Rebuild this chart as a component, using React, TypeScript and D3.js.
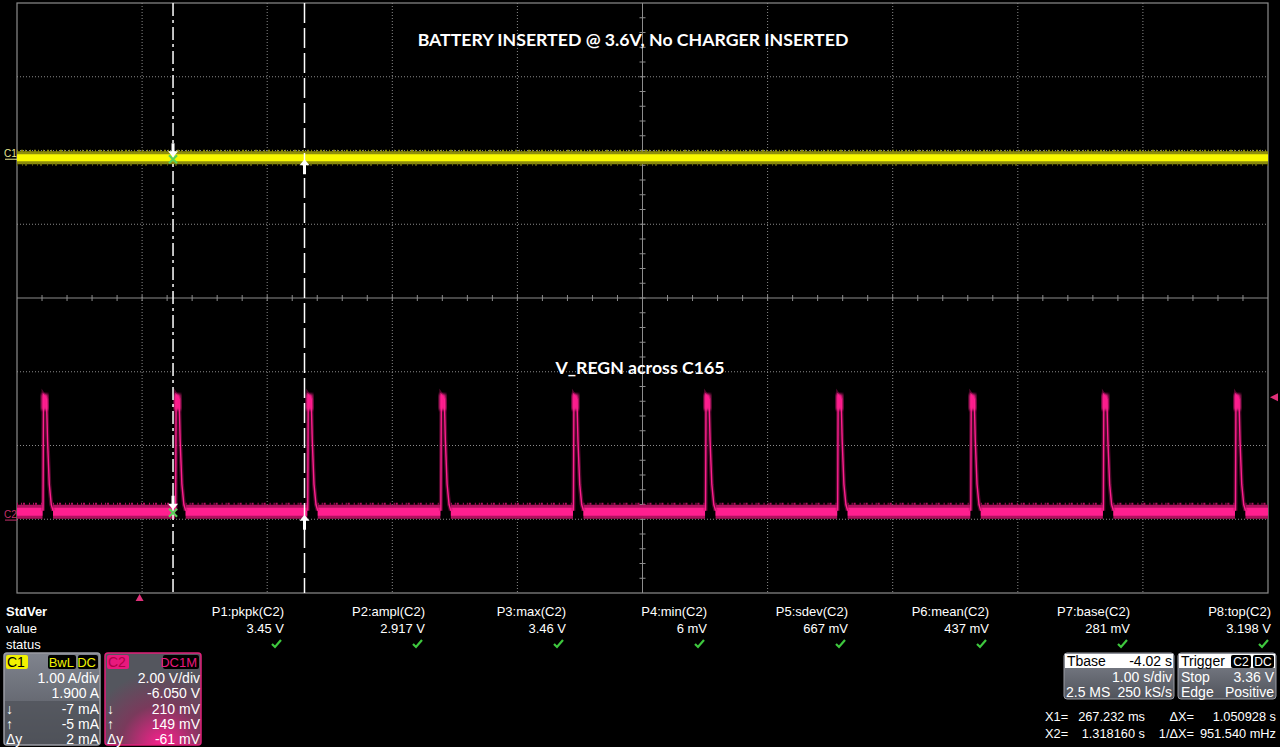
import React, { useEffect, useRef } from 'react';
import * as d3 from 'd3';

// time base: 1 s/div, delay -4.02 s
const timeDomain = [-0.98, 9.02];
// C2 (V_REGN) 2 V/div, offset -6.050 V ; C1 1 A/div, offset 1.900 A
const c2Domain = [-1.95, 14.05];
const c1Domain = [-5.9, 2.1];

// pulse start times (s)
const pulseTimes = [-0.772, 0.288, 1.344, 2.408, 3.468, 4.524, 5.58, 6.644, 7.704, 8.76];
// pulse shape: offset from start (s) and level (V)
const pulseOffsets = [0, 0.004, 0.028, 0.036, 0.05, 0.066, 0.08];
const pulseVolts = [0.281, 3.42, 3.3, 2.2, 1.0, 0.45, 0.281];
const c2Base = 0.281;
const c1Level = -0.005;
const triggerLevel = 3.36;
const cursorX1 = 0.267232;
const cursorX2 = 1.31816;

const title = 'BATTERY INSERTED @ 3.6V, No CHARGER INSERTED';
const c2Label = 'V_REGN across C165';

const measLabels = ['P1:pkpk(C2)', 'P2:ampl(C2)', 'P3:max(C2)', 'P4:min(C2)', 'P5:sdev(C2)', 'P6:mean(C2)', 'P7:base(C2)', 'P8:top(C2)'];
const measValues = ['3.45 V', '2.917 V', '3.46 V', '6 mV', '667 mV', '437 mV', '281 mV', '3.198 V'];

const c1Rows = [['', '1.00 A/div'], ['', '1.900 A'], ['↓', '-7 mA'], ['↑', '-5 mA'], ['Δy', '2 mA']];
const c2Rows = [['', '2.00 V/div'], ['', '-6.050 V'], ['↓', '210 mV'], ['↑', '149 mV'], ['Δy', '-61 mV']];

const cursorRows = [
  ['X1=', '267.232 ms', 'ΔX=', '1.050928 s'],
  ['X2=', '1.318160 s', '1/ΔX=', '951.540 mHz'],
];

const FONT = '"Liberation Sans", Arial, sans-serif';
const PINK = '#ff1f8f';
const PINK_DIM = '#b0125f';
const YELLOW = '#f8f800';
const YELLOW_DIM = '#8c8c0c';

const App = () => {
  const ref = useRef(null);

  useEffect(() => {
    if (!ref.current) return;
    const svg = d3.select(ref.current);
    svg.selectAll('*').remove();

    const x = d3.scaleLinear().domain(timeDomain).range([17, 1268]);
    const y2 = d3.scaleLinear().domain(c2Domain).range([593, 3]);
    const y1 = d3.scaleLinear().domain(c1Domain).range([593, 3]);
    const top = 3, bottom = 593, left = 17, right = 1268;
    const cx = (left + right) / 2, cy = (top + bottom) / 2;

    const defs = svg.append('defs');
    defs.append('filter').attr('id', 'glow').append('feGaussianBlur').attr('stdDeviation', 1.6);
    const g1 = defs.append('linearGradient').attr('id', 'c1grad').attr('x1', 0).attr('y1', 0).attr('x2', 0).attr('y2', 1);
    g1.append('stop').attr('offset', '0%').attr('stop-color', '#80848e');
    g1.append('stop').attr('offset', '100%').attr('stop-color', '#50535b');
    const g2 = defs.append('radialGradient').attr('id', 'c2grad').attr('cx', '60%').attr('cy', '100%').attr('r', '80%');
    g2.append('stop').attr('offset', '0%').attr('stop-color', '#ff1f8f');
    g2.append('stop').attr('offset', '55%').attr('stop-color', '#7a3a5c');
    g2.append('stop').attr('offset', '100%').attr('stop-color', '#54565e');

    // ---- grid
    const grid = svg.append('g');
    d3.range(1, 10).forEach(i => {
      const gx = left + (i * (right - left)) / 10;
      if (i === 5) return;
      grid.append('line').attr('x1', gx).attr('x2', gx).attr('y1', top).attr('y2', bottom)
        .attr('stroke', '#8a8a8a').attr('stroke-width', 1).attr('stroke-dasharray', '1 2');
    });
    d3.range(1, 8).forEach(i => {
      const gy = top + (i * (bottom - top)) / 8;
      if (i === 4) return;
      grid.append('line').attr('x1', left).attr('x2', right).attr('y1', gy).attr('y2', gy)
        .attr('stroke', '#8a8a8a').attr('stroke-width', 1).attr('stroke-dasharray', '1 2');
    });
    grid.append('rect').attr('x', left).attr('y', top).attr('width', right - left).attr('height', bottom - top)
      .attr('fill', 'none').attr('stroke', '#8c8c8c').attr('stroke-width', 1.2);
    grid.append('line').attr('x1', cx).attr('x2', cx).attr('y1', top).attr('y2', bottom).attr('stroke', '#8c8c8c');
    grid.append('line').attr('x1', left).attr('x2', right).attr('y1', cy).attr('y2', cy).attr('stroke', '#8c8c8c');
    d3.range(1, 50).forEach(i => {
      const tx = left + (i * (right - left)) / 50;
      grid.append('line').attr('x1', tx).attr('x2', tx).attr('y1', cy - 3).attr('y2', cy + 3).attr('stroke', '#8c8c8c');
    });
    d3.range(1, 40).forEach(i => {
      const ty = top + (i * (bottom - top)) / 40;
      grid.append('line').attr('x1', cx - 3).attr('x2', cx + 3).attr('y1', ty).attr('y2', ty).attr('stroke', '#8c8c8c');
    });

    // ---- C1 trace (yellow band)
    const c1y = y1(c1Level);
    const c1 = svg.append('g');
    c1.append('rect').attr('x', left).attr('y', c1y - 7).attr('width', right - left).attr('height', 13).attr('fill', YELLOW_DIM);
    c1.append('line').attr('x1', left).attr('x2', right).attr('y1', c1y - 7.5).attr('y2', c1y - 7.5)
      .attr('stroke', YELLOW_DIM).attr('stroke-width', 2).attr('stroke-dasharray', '1 3 2 2 1 4');
    c1.append('line').attr('x1', left).attr('x2', right).attr('y1', c1y + 6.5).attr('y2', c1y + 6.5)
      .attr('stroke', '#5e5e0a').attr('stroke-width', 2).attr('stroke-dasharray', '1 4 1 2 2 5');
    c1.append('rect').attr('x', left).attr('y', c1y - 4).attr('width', right - left).attr('height', 7).attr('fill', YELLOW);

    // ---- C2 trace (pink)
    const c2 = svg.append('g');
    const baseY = y2(c2Base);
    const gaps = pulseTimes.map(t => [t - 0.004, t + pulseOffsets[pulseOffsets.length - 1]]);
    const segs: number[][] = [];
    let start = timeDomain[0];
    gaps.forEach(([a, b]) => { if (a > start) segs.push([start, a]); start = b; });
    if (start < timeDomain[1]) segs.push([start, timeDomain[1]]);
    segs.forEach(([a, b]) => {
      const xa = Math.max(x(a), left), xb = Math.min(x(b), right);
      c2.append('rect').attr('x', xa).attr('y', baseY - 6).attr('width', xb - xa).attr('height', 14).attr('fill', PINK_DIM);
      c2.append('line').attr('x1', xa).attr('x2', xb).attr('y1', baseY - 7).attr('y2', baseY - 7)
        .attr('stroke', PINK_DIM).attr('stroke-width', 2).attr('stroke-dasharray', '1 3 1 1 2 4');
      c2.append('rect').attr('x', xa).attr('y', baseY - 3).attr('width', xb - xa).attr('height', 8).attr('fill', PINK);
    });
    pulseTimes.forEach(t => {
      const pts = pulseOffsets.map((o, i) => [x(t + o), y2(pulseVolts[i])] as [number, number]);
      c2.append('path').attr('d', d3.line()(pts) as string).attr('fill', 'none')
        .attr('stroke', PINK_DIM).attr('stroke-width', 4).attr('opacity', 0.45);
      c2.append('path').attr('d', d3.line()(pts) as string).attr('fill', 'none')
        .attr('stroke', PINK).attr('stroke-width', 1.4);
      c2.append('rect').attr('x', x(t) - 1.5).attr('y', y2(pulseVolts[1]) - 1).attr('width', x(t + pulseOffsets[2]) - x(t) + 3)
        .attr('height', 16).attr('fill', PINK).attr('filter', 'url(#glow)');
    });

    // ---- text on screen
    svg.append('text').attr('x', 633).attr('y', 46).attr('text-anchor', 'middle').attr('fill', '#fff')
      .attr('font-family', 'Lato, "Open Sans", sans-serif').attr('font-weight', 'bold').attr('font-size', 17.7).text(title);
    svg.append('text').attr('x', 640).attr('y', 374).attr('text-anchor', 'middle').attr('fill', '#fff')
      .attr('font-family', 'Lato, "Open Sans", sans-serif').attr('font-weight', 'bold').attr('font-size', 17.7).text(c2Label);

    // ground markers
    svg.append('text').attr('x', 4).attr('y', c1y - 1).attr('fill', '#e8e890').attr('font-family', FONT).attr('font-size', 10).text('C1');
    svg.append('line').attr('x1', 5).attr('x2', 17).attr('y1', c1y + 1).attr('y2', c1y + 1).attr('stroke', '#e8e890');
    const gnd2 = y2(0);
    svg.append('text').attr('x', 4).attr('y', gnd2 - 3).attr('fill', '#c0306a').attr('font-family', FONT).attr('font-size', 10).text('C2');
    svg.append('line').attr('x1', 5).attr('x2', 17).attr('y1', gnd2 - 1).attr('y2', gnd2 - 1).attr('stroke', '#c0306a');

    // trigger markers
    const ty = y2(triggerLevel);
    svg.append('path').attr('d', `M1270,${ty} L1278,${ty - 4} L1278,${ty + 4} Z`).attr('fill', '#e0307a');
    const tx0 = x(0);
    svg.append('path').attr('d', `M${tx0},${bottom + 1} L${tx0 - 4},${bottom + 8} L${tx0 + 4},${bottom + 8} Z`).attr('fill', '#e0307a');

    // ---- cursors
    const xc1 = x(cursorX1), xc2 = x(cursorX2);
    svg.append('line').attr('x1', xc1).attr('x2', xc1).attr('y1', top).attr('y2', bottom)
      .attr('stroke', '#fff').attr('stroke-width', 1.5).attr('stroke-dasharray', '13 4 3 4');
    svg.append('line').attr('x1', xc2).attr('x2', xc2).attr('y1', top).attr('y2', bottom)
      .attr('stroke', '#fff').attr('stroke-width', 1.5).attr('stroke-dasharray', '20 5');
    const arrowDown = (ax: number, ay: number) => {
      svg.append('line').attr('x1', ax).attr('x2', ax).attr('y1', ay - 14).attr('y2', ay - 4).attr('stroke', '#fff').attr('stroke-width', 3);
      svg.append('path').attr('d', `M${ax - 5},${ay - 6} L${ax + 5},${ay - 6} L${ax},${ay} Z`).attr('fill', '#fff');
    };
    const arrowUp = (ax: number, ay: number) => {
      svg.append('line').attr('x1', ax).attr('x2', ax).attr('y1', ay + 4).attr('y2', ay + 15).attr('stroke', '#fff').attr('stroke-width', 3);
      svg.append('path').attr('d', `M${ax - 5},${ay + 6} L${ax + 5},${ay + 6} L${ax},${ay} Z`).attr('fill', '#fff');
    };
    const cross = (ax: number, ay: number) => {
      svg.append('path').attr('d', `M${ax - 4},${ay - 4} L${ax + 4},${ay + 4} M${ax + 4},${ay - 4} L${ax - 4},${ay + 4}`)
        .attr('stroke', '#5ad05a').attr('stroke-width', 2.2);
    };
    arrowDown(xc1, c1y - 1); cross(xc1, c1y + 1);
    arrowUp(xc2, c1y + 1);
    arrowDown(xc1, baseY - 1); cross(xc1, baseY + 2);
    arrowUp(xc2, baseY + 4);

    // ---- measurement panel
    const meas = svg.append('g').attr('font-family', FONT).attr('font-size', 13).attr('fill', '#fff');
    meas.append('text').attr('x', 6).attr('y', 616).attr('font-weight', 'bold').text('StdVer');
    meas.append('text').attr('x', 6).attr('y', 633).text('value');
    meas.append('text').attr('x', 6).attr('y', 649).text('status');
    const mx = d3.scaleLinear().domain([0, 7]).range([284, 1271]);
    measLabels.forEach((l, i) => {
      meas.append('text').attr('x', mx(i)).attr('y', 616).attr('text-anchor', 'end').text(l);
      meas.append('text').attr('x', mx(i)).attr('y', 633).attr('text-anchor', 'end').text(measValues[i]);
      const kx = mx(i) - 7, ky = 644;
      meas.append('path').attr('d', `M${kx - 5},${ky} L${kx - 2},${ky + 3} L${kx + 4},${ky - 4}`)
        .attr('fill', 'none').attr('stroke', '#3ec83e').attr('stroke-width', 2.2);
    });

    // ---- channel boxes
    const box = (bx: number, name: string, tags: string[], rows: string[][], c2box: boolean) => {
      const b = svg.append('g').attr('font-family', FONT).attr('font-size', 14);
      b.append('rect').attr('x', bx).attr('y', 653).attr('width', 96).attr('height', 92).attr('rx', 3)
        .attr('fill', c2box ? 'url(#c2grad)' : 'url(#c1grad)').attr('stroke', c2box ? '#e0207a' : '#9a9ca4').attr('stroke-width', 1.5);
      if (!c2box) {
        b.append('rect').attr('x', bx + 1).attr('y', 701).attr('width', 94).attr('height', 43).attr('fill', '#4e5158').attr('opacity', 0.7);
      }
      b.append('rect').attr('x', bx + 2).attr('y', 655).attr('width', 22).attr('height', 14).attr('rx', 2)
        .attr('fill', c2box ? '#e8197d' : '#f2f200');
      b.append('text').attr('x', bx + 3).attr('y', 667).attr('fill', c2box ? '#b00048' : '#000').text(name);
      let tr = bx + 94;
      tags.slice().reverse().forEach(t => {
        const w = t.length * 8 + 4;
        b.append('rect').attr('x', tr - w).attr('y', 655).attr('width', w).attr('height', 14).attr('rx', 2).attr('fill', '#000');
        b.append('text').attr('x', tr - 2).attr('y', 667).attr('text-anchor', 'end').attr('font-size', 13)
          .attr('fill', c2box ? '#e8197d' : '#f2f200').text(t);
        tr -= w + 2;
      });
      const ry = [683, 698, 714, 729, 744];
      rows.forEach((r, i) => {
        if (r[0]) b.append('text').attr('x', bx + 2).attr('y', ry[i]).attr('fill', '#fff').text(r[0]);
        b.append('text').attr('x', bx + 95).attr('y', ry[i]).attr('text-anchor', 'end').attr('fill', '#fff').text(r[1]);
      });
    };
    box(4, 'C1', ['BwL', 'DC'], c1Rows, false);
    box(105, 'C2', ['DC1M'], c2Rows, true);

    // ---- timebase / trigger boxes
    const tb = svg.append('g').attr('font-family', FONT).attr('font-size', 14).attr('fill', '#fff');
    tb.append('rect').attr('x', 1064).attr('y', 653).attr('width', 110).attr('height', 46).attr('rx', 3)
      .attr('fill', 'url(#c1grad)').attr('stroke', '#9a9ca4');
    tb.append('rect').attr('x', 1065).attr('y', 654).attr('width', 108).attr('height', 14).attr('fill', '#fff');
    tb.append('text').attr('x', 1067).attr('y', 666).attr('fill', '#000').text('Tbase');
    tb.append('text').attr('x', 1172).attr('y', 666).attr('text-anchor', 'end').attr('fill', '#000').text('-4.02 s');
    tb.append('text').attr('x', 1172).attr('y', 682).attr('text-anchor', 'end').text('1.00 s/div');
    tb.append('text').attr('x', 1066).attr('y', 697).text('2.5 MS');
    tb.append('text').attr('x', 1172).attr('y', 697).attr('text-anchor', 'end').text('250 kS/s');

    tb.append('rect').attr('x', 1178).attr('y', 653).attr('width', 98).attr('height', 46).attr('rx', 3)
      .attr('fill', 'url(#c1grad)').attr('stroke', '#9a9ca4');
    tb.append('rect').attr('x', 1179).attr('y', 654).attr('width', 96).attr('height', 14).attr('fill', '#fff');
    tb.append('text').attr('x', 1181).attr('y', 666).attr('fill', '#000').text('Trigger');
    tb.append('rect').attr('x', 1231).attr('y', 655).attr('width', 20).attr('height', 13).attr('rx', 2).attr('fill', '#000');
    tb.append('text').attr('x', 1241).attr('y', 666).attr('text-anchor', 'middle').attr('font-size', 12).text('C2');
    tb.append('rect').attr('x', 1253).attr('y', 655).attr('width', 21).attr('height', 13).attr('rx', 2).attr('fill', '#000');
    tb.append('text').attr('x', 1263).attr('y', 666).attr('text-anchor', 'middle').attr('font-size', 12).text('DC');
    tb.append('text').attr('x', 1181).attr('y', 682).text('Stop');
    tb.append('text').attr('x', 1274).attr('y', 682).attr('text-anchor', 'end').text('3.36 V');
    tb.append('text').attr('x', 1181).attr('y', 697).text('Edge');
    tb.append('text').attr('x', 1274).attr('y', 697).attr('text-anchor', 'end').text('Positive');

    // ---- cursor readout
    const cur = svg.append('g').attr('font-family', FONT).attr('font-size', 12.8).attr('fill', '#fff');
    cursorRows.forEach((r, i) => {
      const yy = 721 + i * 17;
      cur.append('text').attr('x', 1045).attr('y', yy).text(r[0]);
      cur.append('text').attr('x', 1145).attr('y', yy).attr('text-anchor', 'end').text(r[1]);
      cur.append('text').attr('x', 1194).attr('y', yy).attr('text-anchor', 'end').text(r[2]);
      cur.append('text').attr('x', 1276).attr('y', yy).attr('text-anchor', 'end').text(r[3]);
    });
  }, []);

  return (
    <svg
      ref={ref}
      width={1280}
      height={747}
      style={{ position: 'absolute', left: 0, top: 0, background: '#000', display: 'block' }}
    />
  );
};

export default App;
